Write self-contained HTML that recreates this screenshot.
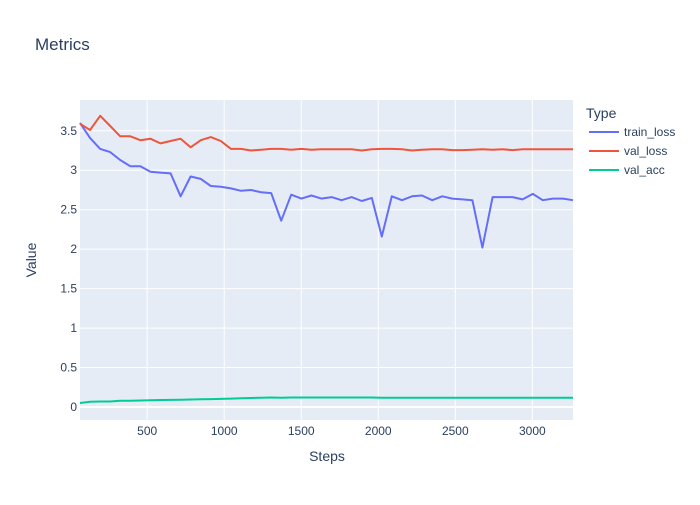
<!DOCTYPE html>
<html><head><meta charset="utf-8"><style>
body{margin:0;background:#fff;font-family:"Liberation Sans",sans-serif}
</style></head><body>
<svg id="c" width="700" height="500" xmlns="http://www.w3.org/2000/svg"></svg>
<script>
const steps = Array.from({length:50},(_,i)=>Math.round(64+i*3200/49));
const trainLoss = [3.60,3.41,3.27,3.23,3.13,3.05,3.05,2.98,2.97,2.96,2.67,2.92,2.89,2.80,2.79,2.77,2.74,2.75,2.72,2.71,2.36,2.69,2.64,2.68,2.64,2.66,2.62,2.66,2.61,2.65,2.16,2.67,2.62,2.67,2.68,2.62,2.67,2.64,2.63,2.62,2.02,2.66,2.66,2.66,2.63,2.70,2.62,2.64,2.64,2.62];
const valLoss = [3.59,3.51,3.69,3.56,3.43,3.43,3.38,3.40,3.34,3.37,3.40,3.29,3.38,3.42,3.37,3.27,3.27,3.25,3.26,3.27,3.27,3.26,3.27,3.26,3.265,3.265,3.265,3.265,3.25,3.265,3.27,3.27,3.265,3.25,3.26,3.265,3.265,3.255,3.255,3.26,3.265,3.26,3.265,3.255,3.265,3.265,3.265,3.265,3.265,3.265];
const valAcc = [0.05,0.065,0.07,0.07,0.078,0.08,0.082,0.085,0.088,0.09,0.092,0.095,0.098,0.1,0.103,0.106,0.11,0.114,0.118,0.12,0.118,0.12,0.12,0.12,0.12,0.12,0.12,0.12,0.12,0.12,0.118,0.118,0.118,0.118,0.118,0.118,0.118,0.118,0.118,0.118,0.118,0.118,0.118,0.118,0.118,0.118,0.117,0.117,0.117,0.117];
const xTicks = [500,1000,1500,2000,2500,3000];
const yTicks = [0,0.5,1,1.5,2,2.5,3,3.5];
const L=80,R=573,T=100,B=420, xmin=64,xmax=3264,ymin=-0.165,ymax=3.89;
const X=v=>L+(v-xmin)/(xmax-xmin)*(R-L);
const Y=v=>B-(v-ymin)/(ymax-ymin)*(B-T);
const svg=document.getElementById('c');
const NS='http://www.w3.org/2000/svg';
function mk(tag,attrs,text){const e=document.createElementNS(NS,tag);for(const k in attrs)e.setAttribute(k,attrs[k]);if(text!==undefined)e.textContent=text;svg.appendChild(e);return e;}
let e=mk('rect',{x:L,y:T,width:R-L,height:B-T,fill:'#e5ecf6'});


xTicks.forEach(t=>{
 let g=mk('line',{x1:X(t),x2:X(t),y1:T,y2:B,stroke:'#fff','stroke-width':1});
 
 
 let l=mk('text',{x:X(t),y:B+15,'text-anchor':'middle','font-size':12,fill:'#2a3f5f'},t);
 
 
});
yTicks.forEach(t=>{
 let g=mk('line',{x1:L,x2:R,y1:Y(t),y2:Y(t),stroke:'#fff','stroke-width':t===0?2:1});
 
 
 let l=mk('text',{x:L-3,y:Y(t)+4,'text-anchor':'end','font-size':12,fill:'#2a3f5f'},String(t));
 
 
});
const series=[['train_loss',trainLoss,'#636efa'],['val_loss',valLoss,'#ef553b'],['val_acc',valAcc,'#00cc96']];
series.forEach(([n,d,c],i)=>{
 let p=mk('polyline',{points:d.map((v,j)=>X(steps[j]).toFixed(1)+','+Y(v).toFixed(1)).join(' '),fill:'none',stroke:c,'stroke-width':2,'stroke-linejoin':'round'});
 
 
 const ly=132+i*19;
 let ll=mk('line',{x1:589,x2:619,y1:ly,y2:ly,stroke:c,'stroke-width':2});
 
 
 let lt=mk('text',{x:624,y:ly+4,'font-size':12,fill:'#2a3f5f'},n);
 
 
});
let t=mk('text',{x:35,y:50,'font-size':17,fill:'#2a3f5f'},'Metrics');


t=mk('text',{x:586,y:118,'font-size':14,fill:'#2a3f5f'},'Type');


t=mk('text',{x:327,y:461,'text-anchor':'middle','font-size':14,fill:'#2a3f5f'},'Steps');


t=mk('text',{x:36,y:260,'text-anchor':'middle','font-size':14,fill:'#2a3f5f',transform:'rotate(-90 36 260)'},'Value');


</script>
</body></html>
